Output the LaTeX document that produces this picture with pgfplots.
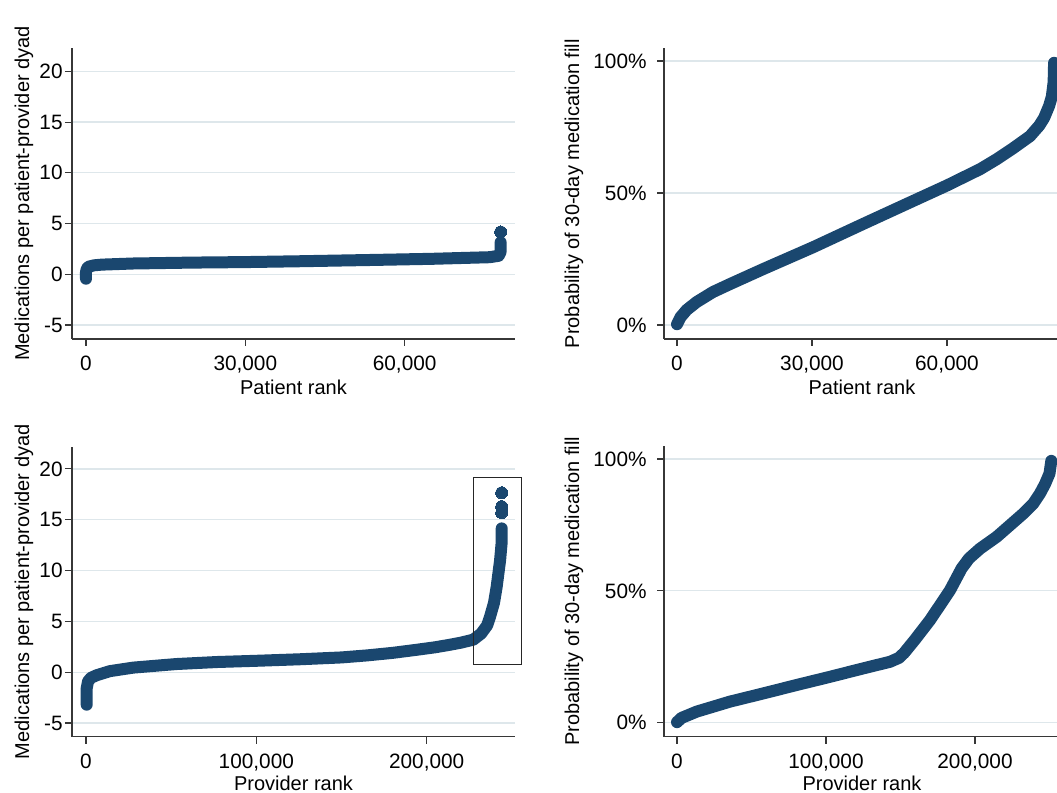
\documentclass[border=0pt]{standalone}
\usepackage{fontspec}
\setmainfont{Liberation Sans}
\usepackage{pgfplots}
\pgfplotsset{compat=1.18}
\definecolor{statanavy}{RGB}{26,71,111}
\definecolor{gridc}{RGB}{222,231,235}
\definecolor{axc}{RGB}{55,55,55}

\pgfplotsset{
  statabase/.style={
    scale only axis,
    anchor=south west,
    axis lines*=left,
    axis line style={axc, line width=0.55pt},
    tick align=outside,
    major tick length=3.5pt,
    tick style={axc, line width=0.55pt},
    ymajorgrids,
    major grid style={gridc, line width=0.6pt},
    scaled x ticks=false,
    scaled y ticks=false,
    tick label style={font=\fontsize{10.4}{12}\selectfont},
    label style={font=\fontsize{10.6}{12}\selectfont},
    xticklabel style={inner sep=0pt, anchor=north, yshift=-5pt},
    every axis x label/.style={at={(axis description cs:0.5,0)}, anchor=base, yshift=-28pt},
    clip=false,
  },
  leftpanel/.style={
    statabase,
    width=221.5pt,
    ytick={-5,0,5,10,15,20},
    yticklabels={-5,0,5,10,15,20},
    yticklabel style={inner sep=0pt, anchor=east, xshift=-1pt},
    every axis y label/.style={at={(axis description cs:0,0.5)}, xshift=-24pt, rotate=90, anchor=center},
    ylabel={Medications per patient-provider dyad},
  },
  rightpanel/.style={
    statabase,
    width=198pt,
    ytick={0,50,100},
    yticklabels={0\%,50\%,100\%},
    yticklabel style={inner sep=0pt, anchor=east, xshift=-5pt},
    every axis y label/.style={at={(axis description cs:0,0.5)}, xshift=-45pt, rotate=90, anchor=center},
    ylabel={Probability of 30-day medication fill},
  },
  dataline/.style={statanavy, line width=6pt, line cap=round, line join=round, mark=none},
  datadots/.style={statanavy, only marks, mark=*, mark size=3pt, mark options={draw=statanavy, fill=statanavy, line width=0pt}},
}

\begin{document}
\begin{tikzpicture}
\useasboundingbox (0,0) rectangle (528.5pt,396.5pt);

% ---------- top left ----------
\begin{axis}[leftpanel, at={(36pt,227pt)}, height=145.5pt,
  xmin=-2636, xmax=80776, ymin=-6.38, ymax=22.30,
  xtick={0,30000,60000}, xticklabels={0,{30,000},{60,000}},
  xlabel={Patient rank}]
\addplot[dataline] coordinates {
 (0,-0.44) (0,0.2) (150,0.55) (500,0.75) (1500,0.88) (3000,0.95) (8850,1.06)
 (20000,1.15) (30000,1.2) (40000,1.28) (55000,1.42) (65000,1.52) (76000,1.68)
 (77700,1.82) (78070,2.2) (78070,3.15)
};
\addplot[datadots] coordinates {(78070,4.17)};
\end{axis}

% ---------- top right ----------
\begin{axis}[rightpanel, at={(332pt,227pt)}, height=145.35pt,
  xmin=-2889, xmax=85111, ymin=-5.3, ymax=104.8,
  xtick={0,30000,60000}, xticklabels={0,{30,000},{60,000}},
  xlabel={Patient rank}]
\addplot[dataline] coordinates {
 (0,0.3) (800,3.0) (2150,5.7) (4370,8.7) (8000,12.5) (11780,15.5) (19180,21.2)
 (30300,29.5) (41400,38.3) (52500,47.0) (59930,52.8) (67330,59.0) (71050,62.8)
 (74740,67.0) (78440,71.5) (80500,75.5) (81600,78.5) (82700,83.0) (83300,86.5)
 (83700,92.0) (83800,99.3)
};
\end{axis}

% ---------- bottom left ----------
\begin{axis}[leftpanel, at={(36pt,28.15pt)}, height=145pt,
  xmin=-8219, xmax=251860, ymin=-6.35, ymax=22.19,
  xtick={0,100000,200000}, xticklabels={0,{100,000},{200,000}},
  xlabel={Provider rank},
  every axis x label/.append style={yshift=1pt}]
\addplot[dataline] coordinates {
 (400,-3.2) (400,-1.6) (1200,-0.9) (3000,-0.55) (6300,-0.3) (14000,0.1)
 (27800,0.45) (53000,0.8) (77000,1.0) (100000,1.12) (125600,1.27) (150000,1.45)
 (165000,1.65) (180000,1.9) (194000,2.2) (205000,2.45) (213700,2.7) (220000,2.9)
 (227400,3.2) (232000,3.8) (235500,4.6) (237200,5.45) (239500,6.8) (241100,8.4)
 (243100,11.0) (244050,12.8) (244050,14.15)
};
\addplot[datadots] coordinates {(244050,15.7) (244050,16.3) (244050,17.66)};
\draw[black!85, line width=0.5pt] (axis cs:227400,0.79) rectangle (axis cs:255800,19.18);
\end{axis}

% ---------- bottom right ----------
\begin{axis}[rightpanel, at={(332pt,28.15pt)}, height=145.35pt,
  xmin=-8725, xmax=257047, ymin=-5.31, ymax=104.93,
  xtick={0,100000,200000}, xticklabels={0,{100,000},{200,000}},
  xlabel={Provider rank},
  every axis x label/.append style={yshift=1pt}]
\addplot[dataline] coordinates {
 (0,0.2) (3000,1.8) (13200,4.2) (35600,8.0) (57900,11.1) (80300,14.3)
 (102700,17.4) (125000,20.6) (143000,23.1) (149000,24.6) (152500,26.5)
 (159700,31.5) (169800,38.9) (183200,50.2) (191000,58.5) (196000,62.3) (203400,66.0)
 (214600,70.5) (232400,79.3) (239000,83.0) (243600,86.9) (247000,90.5)
 (250000,94.5) (251200,99.3)
};
\end{axis}
\end{tikzpicture}
\end{document}
